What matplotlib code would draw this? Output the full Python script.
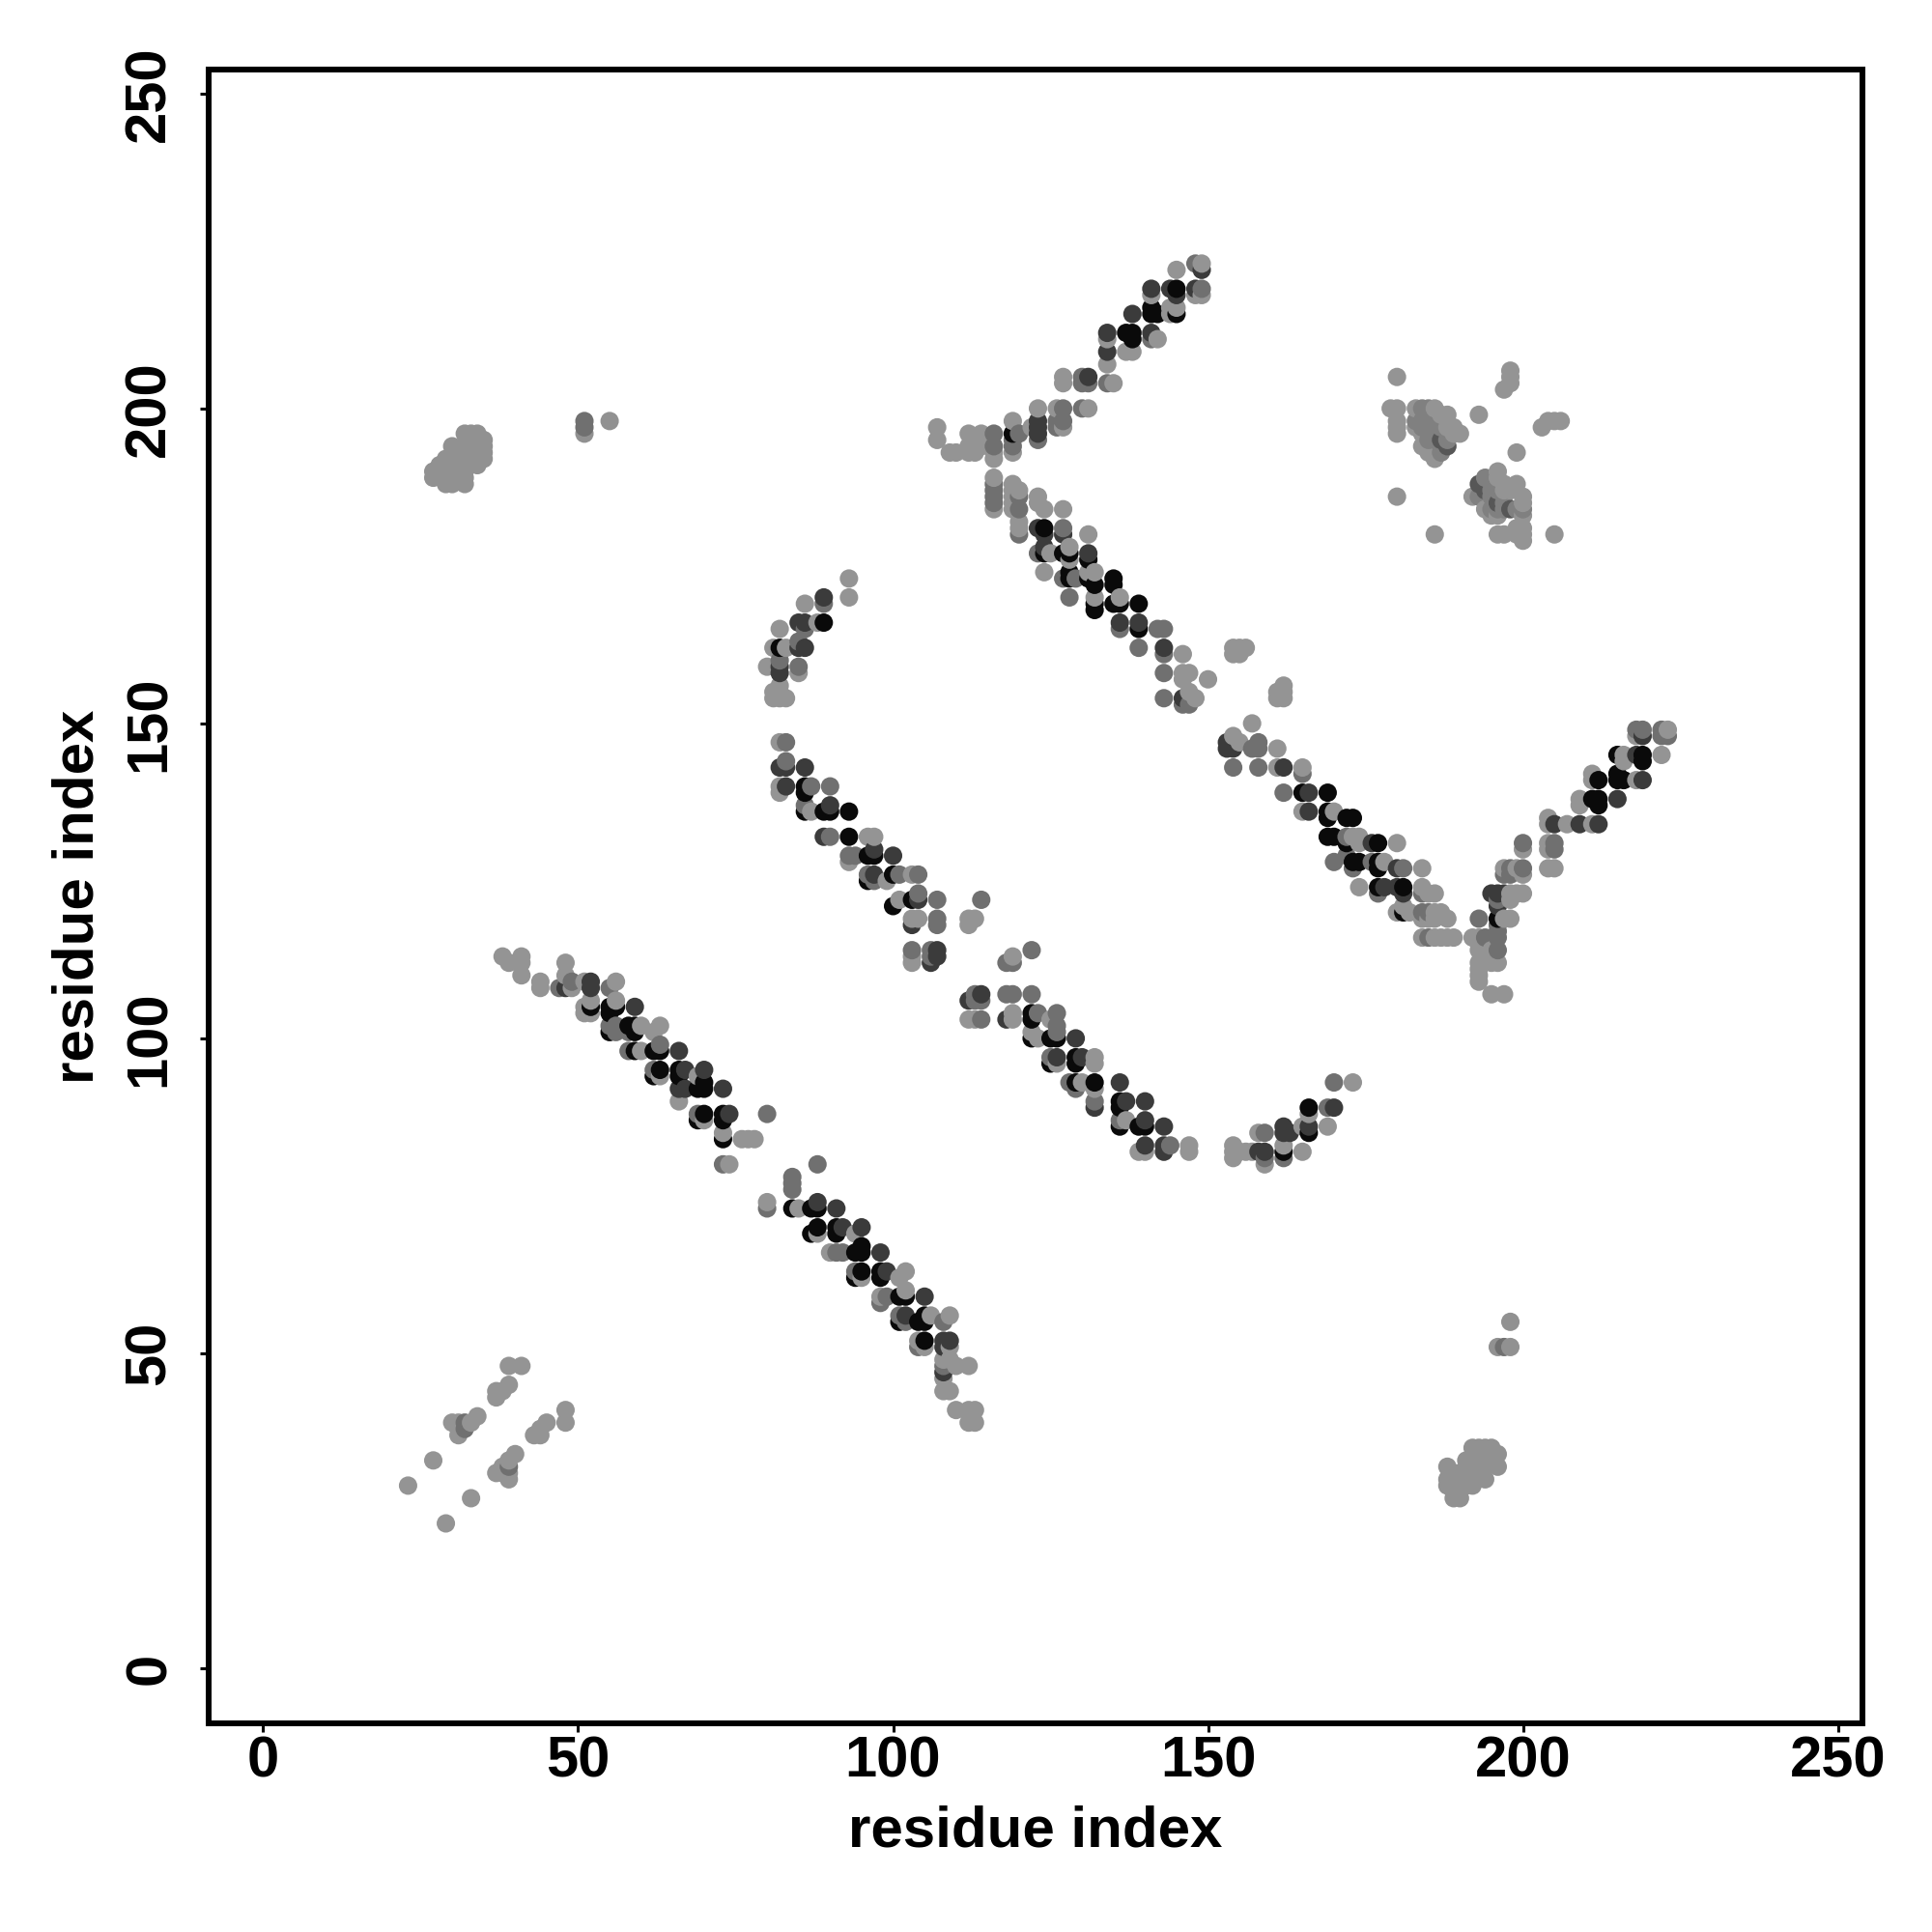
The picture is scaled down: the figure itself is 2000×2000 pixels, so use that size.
import matplotlib
matplotlib.use("Agg")
import matplotlib.pyplot as plt
import numpy as np

plt.rcParams['font.family'] = ['Liberation Sans', 'DejaVu Sans']
plt.rcParams['font.weight'] = 'bold'

tick_vals = [0, 50, 100, 150, 200, 250]

# contacts, grouped by grey level
black_pts = [(52,105),(55,105),(56,105),(55,104),(55,101),(58,102),(59,102),(59,101),(59,98),(62,98),(63,98),
    (63,95),(62,94),(66,95),(66,94),(69,92),(70,92),(70,93),(70,88),(69,87),(73,88),(73,87),(73,84),
    (84,73),(87,73),(88,73),(88,70),(87,69),(91,70),(91,69),(94,66),(95,66),(95,67),(95,63),(94,62),
    (98,63),(98,62),(101,59),(102,59),(101,55),(105,56),(105,55),(104,55),(105,52),
    (89,166),(82,162),(86,140),(86,139),(86,136),(89,136),(90,136),(93,136),(93,132),(96,129),(97,129),
    (96,125),(100,126),(103,122),(100,121),(122,104),(122,103),(122,100),(125,100),(126,100),(125,96),
    (129,97),(129,96),(129,93),(132,93),(136,90),(136,89),(136,86),(139,86),(140,86),(162,82),(166,85),(166,89),
    (145,219),(145,215),(141,216),(141,215),(142,215),(137,212),(138,212),(138,211),(119,196),
    (124,181),(124,177),(127,177),(128,177),(131,176),(128,174),(128,173),(131,173),(132,172),(135,173),
    (135,172),(132,169),(132,168),(135,169),(136,169),(139,169),(139,165),(165,139),(169,139),(169,136),
    (169,135),(172,135),(173,135),(169,132),(170,132),(172,131),(173,128),(174,128),(177,131),(177,128),
    (177,127),(177,124),(181,124),(181,120),
    (196,119),(211,138),(212,138),(212,137),(212,141),(215,142),(215,141),(216,141),(215,145),(219,145),(219,144)]

dark_pts = [(52,109),(52,108),(59,105),(48,108),(67,95),(70,95),(73,92),(74,88),(66,98),(66,92),(67,92),
    (91,73),(88,74),(92,70),(95,70),(98,66),(99,63),(105,59),(102,56),(108,52),(109,52),(108,51),(108,47),
    (89,170),(85,166),(86,166),(85,162),(86,162),(82,159),(82,158),(82,143),(83,143),(86,143),(83,140),
    (90,137),(89,132),(97,130),(100,129),(97,126),(104,122),(103,118),(107,114),(106,112),(107,113),
    (112,106),(114,107),(118,103),(129,100),(126,97),(130,97),(132,89),(136,93),(137,90),(140,90),(140,87),
    (143,86),(140,83),(143,83),(143,82),(158,82),(159,82),(162,86),(162,85),(163,85),(166,86),(170,89),
    (149,222),(148,219),(144,219),(145,218),(141,219),(138,215),(134,212),(134,209),(141,212),(131,205),
    (123,198),(123,197),(123,196),(123,181),(124,180),(127,180),(124,178),(131,177),(136,166),(139,166),
    (143,162),(146,154),(153,147),(154,146),(153,146),(162,143),(166,139),(166,136),(176,131),(180,127),
    (178,124),(180,124),(181,123),(195,123),(196,123),(197,123),(196,121),(205,134),(209,134),(212,134),
    (215,138),(219,141),(218,145),(219,148)]

mid_pts = [(47,108),(49,109),(55,108),(55,102),(56,102),(56,101),(58,98),(63,99),(62,95),(58,101),(69,88),(80,88),(73,80),
    (88,80),(84,78),(84,77),(84,76),(80,73),(91,66),(92,66),(94,63),(99,59),(98,58),(101,56),(102,55),(108,55),
    (104,51),(108,48),(39,32),(32,39),(32,38),
    (89,169),(86,165),(85,163),(82,160),(85,159),(83,147),(83,144),(87,140),(90,140),(86,137),(90,132),(93,129),
    (94,129),(96,126),(97,125),(101,126),(104,126),(104,123),(107,122),(107,119),(107,118),(103,114),(106,114),
    (106,113),(114,122),(122,114),(118,112),(119,112),(113,107),(113,106),(114,106),(114,103),(118,107),(119,107),
    (122,107),(123,104),(126,104),(126,102),(126,101),(125,97),(128,93),(129,92),(132,90),(136,87),(144,83),
    (159,81),(162,81),(170,93),(169,89),(159,85),
    (148,223),(149,219),(141,211),(134,204),(130,205),(130,204),(131,204),(130,200),(127,200),(127,198),(126,198),
    (126,197),(123,195),(120,196),(119,195),(119,194),(116,196),(116,194),(116,188),(116,187),(116,186),(116,185),
    (120,186),(120,184),(120,180),(127,181),(123,177),(129,173),(127,173),(128,170),(142,165),(143,165),(136,165),
    (139,162),(143,161),(143,158),(143,154),(146,153),(147,153),(158,147),(157,146),(158,146),(154,143),(158,143),
    (165,142),(162,139),(172,132),(172,129),(170,128),(173,127),(176,128),(181,127),(177,123),(184,123),(184,120),
    (185,120),(185,116),(194,116),(193,119),(196,116),(196,117),(196,114),(196,118),(196,122),(198,127),(200,127),
    (197,126),(198,126),(200,131),(205,131),(205,130),(218,149),(219,149),(222,149),(223,148),(222,148),
    (51,198),(51,197),(197,51)]

# the two blocks top right never get really dark
x_mid_pts = [(187,195),(188,194),(193,188),(194,187),(196,185),(198,184)]
x_soft_pts = [(184,200),(185,200),(183,198),(184,198),(185,198),(186,198),(184,197),(185,197),(186,197),(187,197),(185,195),
    (186,195),(188,195),(187,193),(194,189),(195,187),(196,187),(193,186),(195,186),(197,185),(195,184),(196,184),
    (197,184),(199,184),(200,184)]

light_pts = [(38,113),(41,113),(39,112),(41,112),(41,110),(44,109),(44,108),(48,112),(48,110),(49,108),(51,109),(56,109),
    (51,105),(52,106),(52,104),(51,104),(56,106),(60,102),(62,101),(63,102),(60,98),(63,94),(69,94),(66,90),(70,87),
    (73,85),(76,84),(77,84),(78,84),(74,80),
    (80,74),(85,73),(88,69),(94,69),(90,66),(95,62),(101,62),(102,63),(98,59),(102,60),(106,56),(109,56),(104,52),
    (105,51),(108,49),(109,49),(110,48),(112,48),(109,51),(108,46),(108,44),(109,44),(110,41),(112,41),(113,41),(112,39),(113,39),
    (39,48),(41,48),(39,45),(37,44),(37,43),(38,44),(34,40),(30,39),(31,39),(33,39),(31,37),(31,38),(48,41),(48,39),
    (45,39),(44,38),(43,37),(44,37),(40,34),(39,33),(38,32),(37,31),(38,31),(39,31),(39,30),(27,33),(23,29),(33,27),(29,23),
    (93,173),(93,170),(86,169),(82,165),(88,166),(81,162),(83,162),(80,159),(85,158),(81,155),(82,156),(81,154),(82,154),
    (83,154),(82,155),(82,147),(82,140),(82,139),(87,136),(96,132),(97,132),(93,128),(99,125),(103,126),(101,122),(103,119),
    (104,119),(103,112),(103,113),(112,119),(113,119),(112,118),(119,113),(112,103),(113,103),(119,103),(119,104),(125,103),
    (122,101),(123,100),(126,96),(132,97),(132,96),(130,93),(132,92),(137,87),(139,82),(140,82),(147,83),(147,82),
    (154,83),(154,82),(154,81),(155,82),(156,82),(157,82),(159,80),(158,85),(162,83),(165,82),(165,86),(169,86),(173,93),(166,88),
    (149,223),(145,222),(149,218),(148,218),(141,218),(145,216),(144,216),(144,215),(142,211),(134,211),(137,209),(138,209),
    (134,207),(135,204),(127,205),(127,204),(131,200),(126,200),(127,197),(123,200),(122,197),(119,198),(119,193),(116,193),
    (116,192),(114,196),(114,194),(112,196),(112,194),(113,195),(113,193),(112,193),(110,193),(109,193),(107,197),(107,195),
    (116,189),(116,184),(119,188),(119,187),(119,186),(119,185),(119,184),(120,187),(120,182),(120,181),(123,186),(123,185),
    (124,184),(127,184),(131,180),(125,177),(128,178),(128,176),(124,174),(131,174),(132,174),(132,170),(136,170),(146,161),
    (146,158),(147,158),(146,157),(150,157),(147,155),(148,154),(154,162),(155,162),(156,162),(154,161),(155,161),(162,156),
    (161,155),(162,155),(161,154),(162,154),
    (157,150),(154,148),(155,147),(161,146),(161,143),(165,143),(170,136),(165,136),(173,132),(174,132),(174,131),(180,131),
    (184,127),(174,124),(184,124),(185,123),(186,123),(180,120),(181,121),(182,120),(186,120),(187,120),(188,119),(184,119),
    (185,119),(186,119),(178,128),(184,116),(186,116),(187,116),(188,116),(189,116),
    (192,116),(193,116),(193,115),(193,114),(193,112),(193,111),(193,110),(193,109),(195,114),(196,112),(195,112),(195,107),
    (197,107),(198,119),(197,119),(198,123),(199,123),(200,123),(198,122),(197,127),(199,127),(200,126),(200,130),(204,131),
    (204,130),(204,127),(205,127),(204,135),(204,134),(207,134),(211,134),(209,138),(209,137),(211,142),(211,141),(218,141),
    (216,145),(216,144),(222,145),(218,148),(223,149),
    (180,205),(179,200),(180,200),(180,198),(180,197),(180,196),(183,200),(186,200),(187,199),(188,199),(183,197),(188,197),
    (189,197),(189,196),(190,196),(184,194),(185,193),(186,192),(184,196),(193,199),(197,203),(198,206),(198,205),(198,204),
    (199,193),(203,197),(204,198),(205,198),(206,198),(180,186),(186,180),(205,180),
    (192,186),(196,190),(196,189),(197,188),(199,188),(197,187),(198,187),(200,186),(200,185),(194,184),(196,183),(195,183),
    (200,183),(196,180),(197,180),(199,180),(200,180),(200,179),(200,181),(199,181)]

cluster_a = [(27,190),(27,189),(29,188),(29,192),(30,194),(32,196),(33,196),(34,196),(35,195),(35,194),(35,192),(32,188),
    (30,191),(30,190),(30,189),(31,192),(32,194),(32,192),(32,191),(32,190),(33,194),(33,192),(28,191),(29,190),(29,189),
    (34,193),(33,195),(35,193),(30,188),(32,189),(34,191),(51,196),(55,198)]
cluster_b = [(198,55),(196,51),(198,51),(188,32),(188,29),(189,27),(190,27),(188,30),(189,28),(190,29),(191,29),(192,29),
    (192,35),(193,35),(194,35),(195,35),(196,34),(196,32),(194,30),(191,33),(191,32),(192,33),(193,32),(194,32),(195,33),
    (195,34),(192,31),(190,31),(190,30),(191,30),(193,31),(189,31),(194,33),(193,34)]

levels = [(black_pts, 0.04), (dark_pts, 0.23), (mid_pts, 0.44), (x_mid_pts, 0.34), (x_soft_pts, 0.5),
          (light_pts, 0.58), (cluster_a, 0.57), (cluster_b, 0.57)]

xs, ys, gs = [], [], []
for pts, g in levels:
    for p in pts:
        xs.append(p[0])
        ys.append(p[1])
        gs.append(g)
xs = np.array(xs)
ys = np.array(ys)
gs = np.array(gs)
# later columns/rows sit on top in the original
order = np.lexsort((ys, xs))

fig = plt.figure(figsize=(10, 10), dpi=200)
ax = fig.add_axes([0.108, 0.108, 0.856, 0.856])
ax.scatter(xs[order], ys[order], s=47, c=[str(g) for g in gs[order]], linewidths=0)

ax.set_xlim(-8.66, 253.9)
ax.set_ylim(-8.74, 253.8)
ax.set_xticks(tick_vals)
ax.set_yticks(tick_vals)
ax.tick_params(length=3.2, width=1.1, labelsize=21.5)
ax.tick_params(axis='x', pad=1.2)
ax.tick_params(axis='y', pad=8.8)
for lab in ax.get_yticklabels():
    lab.set_rotation(90)
    lab.set_va('center')
for s in ax.spines.values():
    s.set_linewidth(2.16)
ax.set_xlabel("residue index", fontsize=21.6, fontweight='bold', labelpad=6.2)
ax.set_ylabel("residue index", fontsize=21.6, fontweight='bold', labelpad=7)

fig.savefig("out.png", dpi=200)
